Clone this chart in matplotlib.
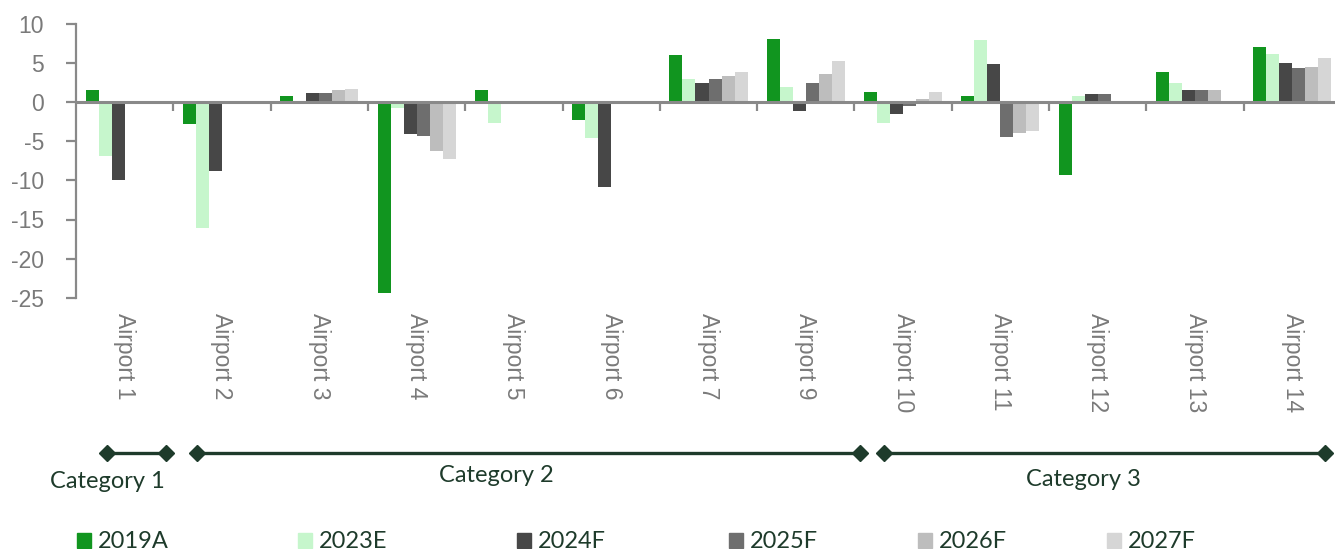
import numpy as np
import matplotlib
matplotlib.use("Agg")
import matplotlib.pyplot as plt
from matplotlib.patches import Rectangle
import matplotlib.transforms as mtransforms

nan = np.nan
airports = ["Airport 1", "Airport 2", "Airport 3", "Airport 4", "Airport 5", "Airport 6",
            "Airport 7", "Airport 9", "Airport 10", "Airport 11", "Airport 12", "Airport 13", "Airport 14"]
series_names = ["2019A", "2023E", "2024F", "2025F", "2026F", "2027F"]
v2019A = [1.5, -2.8, 0.75, -24.4, 1.6, -2.25, 6.0, 8.1, 1.3, 0.85, -9.25, 3.9, 7.1]
v2023E = [-6.9, -16.1, nan, -0.7, -2.6, -4.55, 3.0, 2.0, -2.7, 8.0, 0.85, 2.4, 6.2]
v2024F = [-9.9, -8.8, 1.2, -4.1, 0.1, -10.8, 2.5, -1.15, -1.5, 4.9, 1.07, 1.6, 4.95]
v2025F = [nan, nan, 1.2, -4.3, nan, nan, 3.0, 2.4, -0.5, -4.4, 1.07, 1.6, 4.4]
v2026F = [nan, nan, 1.5, -6.2, nan, nan, 3.4, 3.55, 0.45, -4.0, nan, 1.6, 4.55]
v2027F = [nan, nan, 1.75, -7.3, nan, nan, 3.85, 5.3, 1.35, -3.65, nan, nan, 5.6]
series_values = [v2019A, v2023E, v2024F, v2025F, v2026F, v2027F]
colors = ["#11951F", "#C6F6CC", "#474747", "#6E6E6E", "#BDBDBD", "#D6D6D6"]

categories = ["Category 1", "Category 2", "Category 3"]
cat_spans = [(-0.18, 0.42), (0.74, 7.56), (7.8, 12.34)]
cat_label_x = [-0.18, 3.82, 9.85]
cat_label_y = [481, 476, 479]

W, H = 1335, 549
fig = plt.figure(figsize=(W / 100, H / 100), dpi=100)
left_px, right_px, top_px, bot_px = 76, 1341, 24, 297.7
ax = fig.add_axes([left_px / W, 1 - bot_px / H, (right_px - left_px) / W, (bot_px - top_px) / H])

grey = "#898989"
txt_grey = "#7A7A7A"
dark = "#1E3B2B"

n = len(airports)
x = np.arange(n)
w = 13 / 97.3
for j, (vals, c) in enumerate(zip(series_values, colors)):
    ax.bar(x + (j - 2.5) * w, np.array(vals, dtype=float), width=w, color=c,
           edgecolor="none", label=series_names[j], zorder=2)

ax.set_xlim(-0.5, n - 0.5)
ax.set_ylim(-25, 10)
ax.set_yticks(np.arange(-25, 11, 5))
for s in ["top", "right", "bottom"]:
    ax.spines[s].set_visible(False)
ax.spines["left"].set_color(grey)
ax.spines["left"].set_linewidth(1.6)
ax.tick_params(axis="y", length=7, width=1.6, color=grey, pad=16, labelsize=16.5,
               labelcolor=txt_grey)
ax.set_yticklabels([str(v) for v in range(-25, 11, 5)], fontfamily="Liberation Sans")

ax.axhline(0, color=grey, lw=2.2, zorder=3)
for b in np.arange(0.5, n - 0.5, 1.0):
    ax.plot([b, b], [0, -1.1], color=grey, lw=1.6, zorder=3, solid_capstyle="butt")

ax.set_xticks(x)
ax.set_xticklabels(airports, rotation=-90, fontfamily="Liberation Sans", fontsize=16.5,
                   color=txt_grey, va="top", ha="center")
ax.tick_params(axis="x", length=0, pad=11)

# category brackets
trans = mtransforms.blended_transform_factory(ax.transData, fig.transFigure)
yb = 1 - 453 / H
for (a, b), name, lx, ly in zip(cat_spans, categories, cat_label_x, cat_label_y):
    ax.plot([a, b], [yb, yb], transform=trans, color=dark, lw=2.4, clip_on=False,
            marker="D", markersize=8, markevery=[0, 1])
    ax.text(lx, 1 - ly / H, name, transform=trans, ha="center", va="center",
            fontfamily="Lato", fontsize=17, color=dark, clip_on=False)

# legend
marker_px = [77, 298, 517, 729, 918, 1107]
for mx, name, c in zip(marker_px, series_names, colors):
    fig.patches.append(Rectangle((mx / W, 1 - 548 / H), 14 / W, 15 / H, color=c,
                                 transform=fig.transFigure, figure=fig))
    fig.text((mx + 21) / W, 1 - 541 / H, name, ha="left", va="center",
             fontfamily="Lato", fontsize=17, color=dark)

fig.savefig("out.png", dpi=100)
